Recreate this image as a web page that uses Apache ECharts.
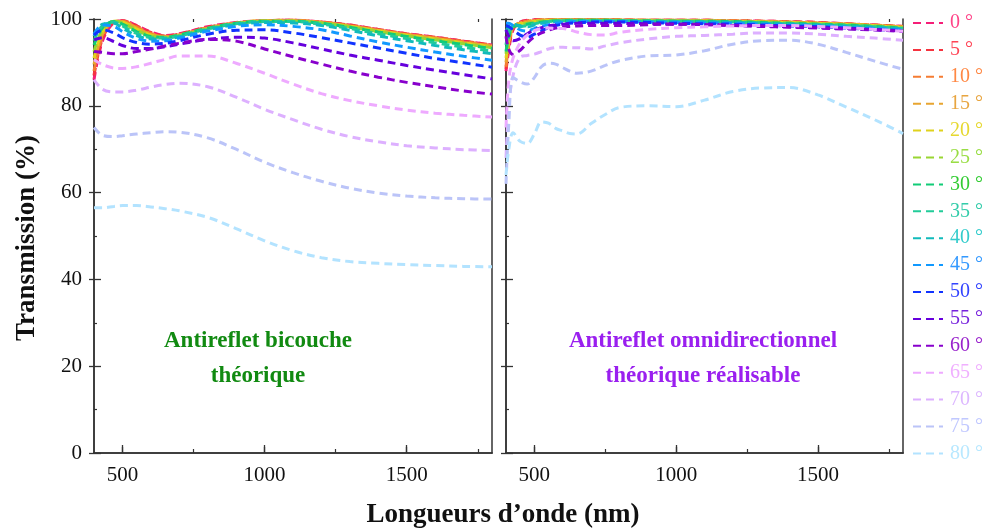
<!DOCTYPE html>
<html><head><meta charset="utf-8">
<script src="https://cdn.jsdelivr.net/npm/echarts@6/dist/echarts.min.js"></script>
<style>html,body{margin:0;padding:0;background:#fff}#c{width:987px;height:531px}</style>
</head><body><div id="c"></div>
<script>
const angles = [0,5,10,15,20,25,30,35,40,45,50,55,60,65,70,75,80];
const lineColors = ['#f51e78','#f5333f','#f57c33','#e8a530','#e0d21c','#99d633','#11cc77','#22cc99','#11bbbb','#1199ff','#1133ff','#6600dd','#8800cc','#eeaaff','#ddb0ff','#bbc4f8','#b3e3ff'];
const textColors = ['#ff4488','#ff4455','#ff8844','#e8a540','#e6d830','#99dd44','#33cc33','#33ccaa','#33cccc','#3399ff','#3344ff','#7722dd','#9922cc','#f0b0ff','#ddb8ff','#c0c8ff','#b8e8ff'];
const xTickValues = [500,1000,1500];
const xMinorValues = [750,1250,1750];

// Left panel: "Antireflet bicouche théorique"
const xLeft = [400,430,470,500,550,600,650,700,800,900,1000,1100,1200,1300,1400,1500,1600,1700,1800];
const L0  = [86,95,99.2,99.6,98.5,97.0,96.2,96.6,98.2,99.2,99.6,99.7,99.3,98.6,97.6,96.6,95.8,94.9,94.0];
const L5  = [87,95.5,99.3,99.6,98.4,96.9,96.1,96.5,98.1,99.1,99.6,99.7,99.3,98.6,97.6,96.6,95.8,94.9,94.0];
const L10 = [88,96,99.4,99.5,98.2,96.7,96.0,96.4,98.0,99.1,99.6,99.7,99.3,98.5,97.5,96.5,95.7,94.8,93.9];
const L15 = [89.5,96.5,99.5,99.4,98.0,96.5,95.9,96.3,97.9,99.0,99.6,99.6,99.2,98.4,97.4,96.4,95.6,94.6,93.8];
const L20 = [91,97,99.5,99.3,97.7,96.3,95.8,96.2,97.8,99.0,99.6,99.6,99.1,98.3,97.3,96.3,95.4,94.5,93.6];
const L25 = [92.5,97.5,99.5,99.1,97.4,96.1,95.7,96.1,97.7,98.9,99.5,99.5,99.1,98.2,97.1,96.1,95.2,94.3,93.4];
const L30 = [94,98,99.4,98.8,97.1,96.0,95.8,96.3,97.9,99.0,99.5,99.5,99.0,98.1,97.0,96.0,95.0,94.1,93.2];
const L35 = [95,98.5,99.3,98.4,96.7,95.7,95.6,96.1,97.7,98.9,99.4,99.4,98.8,97.8,96.6,95.5,94.5,93.5,92.6];
const L40 = [96,98.8,99.0,97.9,96.2,95.4,95.4,95.9,97.5,98.7,99.2,99.1,98.5,97.4,96.1,95.0,93.9,92.9,92.0];
const L45 = [96.5,98.6,98.3,97.1,95.5,94.9,95.0,95.6,97.2,98.3,98.7,98.3,97.5,96.1,94.7,93.5,92.4,91.4,90.5];
const L50 = [96.3,97.5,96.8,95.7,94.6,94.2,94.4,95.0,96.5,97.4,97.5,96.8,95.7,94.5,93.3,92.1,90.9,89.9,88.9];
const L55 = [95.2,95.7,94.8,93.9,93.2,93.2,93.6,94.2,95.3,95.8,95.6,94.5,93.1,91.7,90.5,89.3,88.2,87.2,86.2];
const L60 = [92.5,92.3,92.0,92.0,92.5,93.1,93.8,94.4,95.3,94.9,93.1,91.3,89.6,88.0,86.6,85.4,84.4,83.4,82.7];
const L65 = [90.6,89.5,88.7,88.6,89.0,89.8,90.7,91.5,91.5,89.8,87.5,85.0,82.8,81.2,80.0,79.0,78.3,77.8,77.4];
const L70 = [86,83.8,83.2,83.2,83.6,84.3,84.9,85.2,84.4,82.0,79.2,76.8,74.6,72.9,71.7,70.8,70.3,69.9,69.7];
const L75 = [75,73.2,72.9,73.1,73.5,73.8,74.0,73.9,72.6,70.0,67.0,64.6,62.6,61.0,59.9,59.2,58.8,58.6,58.5];
const L80 = [56.5,56.5,56.8,57.0,57.0,56.7,56.3,55.8,54.3,51.7,48.9,46.6,45.0,44.1,43.7,43.4,43.2,43.0,42.9];

// Right panel: "Antireflet omnidirectionnel théorique réalisable"
const xRight = [400,410,425,450,475,500,525,550,575,600,625,650,700,750,800,900,1000,1100,1200,1300,1400,1500,1600,1700,1800];
const R0  = [88,93,97.5,99.3,99.7,99.8,99.8,99.8,99.8,99.8,99.8,99.8,99.8,99.8,99.8,99.7,99.7,99.7,99.6,99.5,99.4,99.2,98.9,98.6,98.3];
const R5  = [88.5,93.5,97.8,99.3,99.6,99.8,99.8,99.8,99.8,99.8,99.8,99.8,99.8,99.8,99.8,99.7,99.7,99.7,99.6,99.5,99.4,99.2,98.9,98.6,98.3];
const R10 = [89,94,98,99.2,99.5,99.7,99.8,99.8,99.8,99.8,99.8,99.8,99.8,99.8,99.8,99.7,99.7,99.7,99.6,99.5,99.3,99.1,98.9,98.6,98.3];
const R15 = [90,94.5,98.2,99.1,99.4,99.6,99.7,99.8,99.8,99.8,99.8,99.8,99.8,99.8,99.7,99.7,99.7,99.6,99.5,99.4,99.3,99.1,98.8,98.5,98.2];
const R20 = [91,95,98.3,98.9,99.2,99.5,99.6,99.7,99.7,99.7,99.7,99.7,99.7,99.7,99.7,99.7,99.6,99.6,99.5,99.4,99.2,99.0,98.8,98.5,98.1];
const R25 = [92,95.5,98.3,98.7,99.0,99.3,99.5,99.6,99.7,99.7,99.7,99.7,99.7,99.7,99.7,99.6,99.6,99.5,99.4,99.3,99.1,98.9,98.7,98.4,98.0];
const R30 = [92.5,96,98.2,98.5,98.8,99.1,99.3,99.5,99.6,99.6,99.7,99.7,99.7,99.7,99.6,99.6,99.5,99.5,99.4,99.2,99.0,98.8,98.6,98.3,97.9];
const R35 = [94,97,98.3,98.3,98.5,98.9,99.2,99.4,99.5,99.6,99.6,99.6,99.6,99.6,99.6,99.5,99.5,99.4,99.3,99.1,98.9,98.7,98.5,98.2,97.8];
const R40 = [97,98.3,98.8,98.4,98.2,98.6,99.0,99.3,99.4,99.5,99.5,99.5,99.5,99.5,99.5,99.4,99.4,99.3,99.2,99.0,98.8,98.6,98.3,98.0,97.7];
const R45 = [99,99,98.5,97.5,97.2,97.8,98.3,98.7,99.0,99.2,99.3,99.4,99.4,99.4,99.4,99.3,99.2,99.1,99.0,98.8,98.6,98.4,98.1,97.8,97.5];
const R50 = [98.5,98.2,97.5,96.3,95.8,96.5,97.3,98.0,98.5,98.8,99.0,99.1,99.3,99.3,99.3,99.2,99.0,98.9,98.8,98.6,98.4,98.2,97.9,97.6,97.3];
const R55 = [97.5,96,95,95.5,96.6,97.5,98.0,98.4,98.6,98.8,98.9,99.0,99.0,99.0,99.0,98.9,98.8,98.7,98.5,98.4,98.2,98.0,97.8,97.5,97.2];
const R60 = [96,93,91.8,92.8,94.5,95.9,96.8,97.4,97.9,98.2,98.3,98.4,98.5,98.5,98.5,98.7,98.8,98.7,98.5,98.3,98.1,97.9,97.7,97.5,97.2];
const R65 = [75,86,91,94.5,96.3,97.3,97.8,97.9,97.8,97.8,97.5,97.0,96.4,96.3,96.9,97.6,98.0,98.2,98.4,98.5,98.5,98.3,98.0,97.6,97.2];
const R70 = [68,80,87,91.2,91.6,91.9,92.5,93.1,93.4,93.5,93.4,93.4,93.1,93.8,94.5,95.4,96.0,96.2,96.5,96.8,96.8,96.5,96.0,95.6,95.1];
const R75 = [62,76,86.5,85.5,85.0,86.5,89.0,89.8,89.6,88.8,88.0,87.5,88.0,89.3,90.4,91.5,91.7,92.7,94.2,95.0,95.1,94.2,92.3,90.3,88.4];
const R80 = [64,70,73.8,71.8,71.3,73.5,76.3,76.0,74.8,74.2,73.6,73.5,75.9,78.0,79.6,80.0,79.8,81.3,83.3,84.1,84.2,82.5,79.7,76.8,73.6];

const leftSeries = [L0,L5,L10,L15,L20,L25,L30,L35,L40,L45,L50,L55,L60,L65,L70,L75,L80];
const rightSeries = [R0,R5,R10,R15,R20,R25,R30,R35,R40,R45,R50,R55,R60,R65,R70,R75,R80];

const SERIF = '"Liberation Serif","DejaVu Serif",serif';
const names = angles.map(a => a + ' °');

function pairs(xs, ys){ return xs.map((x,i)=>[x, ys[i]]); }

const series = [];
[[leftSeries, xLeft, 0],[rightSeries, xRight, 1]].forEach(([set, xs, g]) => {
  set.forEach((ys, i) => {
    series.push({
      type:'line', name:names[i], xAxisIndex:g*4, yAxisIndex:g*3,
      data:pairs(xs, ys), smooth:0.35, symbol:'none', showSymbol:false,
      lineStyle:{color:lineColors[i], width:3, type:[8,5]},
      itemStyle:{color:lineColors[i]}, z:2, silent:true
    });
  });
});

const grids = [
  {left:94, top:19, width:398, height:434},
  {left:506, top:19, width:397, height:434}
];
const axisLine = {show:true, lineStyle:{color:'#333', width:1.5}};
const xAxes = [], yAxes = [];
[0,1].forEach(g => {
  const base = {type:'value', gridIndex:g, min:400, max:1800, splitLine:{show:false}, axisLine};
  xAxes.push(Object.assign({}, base, {position:'bottom',
    axisTick:{show:true, inside:true, length:8, customValues:xTickValues, lineStyle:{color:'#333',width:1.3}},
    axisLabel:{show:true, customValues:xTickValues, margin:12, fontFamily:SERIF, fontSize:21, color:'#111', formatter:v=>String(v)}}));
  xAxes.push(Object.assign({}, base, {position:'bottom', axisLine:{show:false},
    axisTick:{show:true, inside:true, length:4, customValues:xMinorValues, lineStyle:{color:'#333',width:1.2}},
    axisLabel:{show:false}}));
  xAxes.push(Object.assign({}, base, {position:'top',
    axisTick:{show:true, inside:false, length:6, customValues:xTickValues, lineStyle:{color:'#333',width:1.3}},
    axisLabel:{show:false}}));
  xAxes.push(Object.assign({}, base, {position:'top', axisLine:{show:false},
    axisTick:{show:true, inside:true, length:3, customValues:xMinorValues, lineStyle:{color:'#333',width:1.2}},
    axisLabel:{show:false}}));
  const yb = {type:'value', gridIndex:g, min:0, max:100, interval:20, splitLine:{show:false}, axisLine};
  yAxes.push(Object.assign({}, yb, {position:'left',
    axisTick:{show:true, inside:true, length:7, lineStyle:{color:'#333',width:1.3}},
    minorTick:{show:true, splitNumber:2, length:3, lineStyle:{color:'#333',width:1.2}},
    axisLabel:{show:g===0, margin:12, fontFamily:SERIF, fontSize:21, color:'#111'}}));
  yAxes.push(Object.assign({}, yb, {position:'left',
    axisTick:{show:true, inside:false, length:5, lineStyle:{color:'#333',width:1.3}},
    axisLabel:{show:false}}));
  yAxes.push(Object.assign({}, yb, {position:'right', axisTick:{show:false}, axisLabel:{show:false}}));
});

const option = {
  animation:false,
  backgroundColor:'#fff',
  grid:grids, xAxis:xAxes, yAxis:yAxes, series,
  legend:{
    orient:'vertical', left:907, top:8, itemWidth:30, itemHeight:14, itemGap:6.9,
    selectedMode:false,
    itemStyle:{color:'transparent', borderColor:'transparent', borderWidth:0, opacity:0},
    textStyle:{fontFamily:SERIF, fontSize:20, padding:[0,0,0,2]},
    data:names.map((n,i)=>({name:n, textStyle:{color:textColors[i]}}))
  },
  graphic:[
    {type:'text', x:27, y:238, rotation:Math.PI/2, style:{text:'Transmission (%)', font:'bold 27px '+SERIF, fill:'#111', align:'center', verticalAlign:'middle'}},
    {type:'text', x:503, y:515, style:{text:'Longueurs d’onde (nm)', font:'bold 27px '+SERIF, fill:'#111', align:'center', verticalAlign:'middle'}},
    {type:'text', x:258, y:341, style:{text:'Antireflet bicouche', font:'bold 23px '+SERIF, fill:'#118a11', align:'center', verticalAlign:'middle'}},
    {type:'text', x:258, y:376, style:{text:'théorique', font:'bold 23px '+SERIF, fill:'#118a11', align:'center', verticalAlign:'middle'}},
    {type:'text', x:703, y:341, style:{text:'Antireflet omnidirectionnel', font:'bold 23px '+SERIF, fill:'#9a1fef', align:'center', verticalAlign:'middle'}},
    {type:'text', x:703, y:376, style:{text:'théorique réalisable', font:'bold 23px '+SERIF, fill:'#9a1fef', align:'center', verticalAlign:'middle'}}
  ]
};
const chart = echarts.init(document.getElementById('c'), null, {renderer:'canvas'});
chart.setOption(option);
</script></body></html>
